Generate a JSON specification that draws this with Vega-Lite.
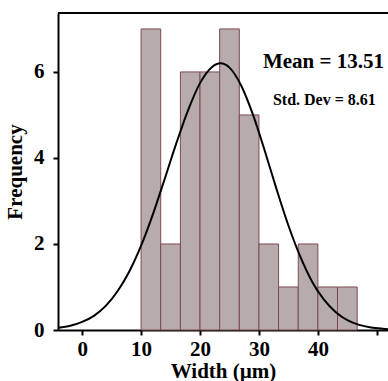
{
  "$schema": "https://vega.github.io/schema/vega-lite/v6.json",
  "autosize": "none",
  "width": 330,
  "height": 317,
  "padding": {"left": 58, "top": 13, "right": 0, "bottom": 51},
  "background": "white",
  "config": {
    "view": {"stroke": null},
    "font": "Liberation Serif",
    "axis": {
      "labelFont": "Liberation Serif",
      "titleFont": "Liberation Serif",
      "labelFontWeight": "bold",
      "titleFontWeight": "bold",
      "labelColor": "#000",
      "titleColor": "#000",
      "domainColor": "#000",
      "tickColor": "#000",
      "domainWidth": 2,
      "tickWidth": 2,
      "tickSize": 5,
      "grid": false
    }
  },
  "datasets": {
    "bars": [
      {"start": 10, "end": 13.33, "count": 7},
      {"start": 13.33, "end": 16.67, "count": 2},
      {"start": 16.67, "end": 20, "count": 6},
      {"start": 20, "end": 23.33, "count": 6},
      {"start": 23.33, "end": 26.67, "count": 7},
      {"start": 26.67, "end": 30, "count": 5},
      {"start": 30, "end": 33.33, "count": 2},
      {"start": 33.33, "end": 36.67, "count": 1},
      {"start": 36.67, "end": 40, "count": 2},
      {"start": 40, "end": 43.33, "count": 1},
      {"start": 43.33, "end": 46.67, "count": 1}
    ],
    "curve": [
      {"x": -4.1, "y": 0.05},
      {"x": -2, "y": 0.1},
      {"x": 0, "y": 0.19},
      {"x": 2, "y": 0.33},
      {"x": 4, "y": 0.56},
      {"x": 6, "y": 0.9},
      {"x": 8, "y": 1.36},
      {"x": 10, "y": 1.96},
      {"x": 12, "y": 2.69},
      {"x": 14, "y": 3.51},
      {"x": 16, "y": 4.35},
      {"x": 18, "y": 5.12},
      {"x": 20, "y": 5.74},
      {"x": 22, "y": 6.11},
      {"x": 23.5, "y": 6.2},
      {"x": 25, "y": 6.1},
      {"x": 27, "y": 5.68},
      {"x": 29, "y": 5.0},
      {"x": 31, "y": 4.16},
      {"x": 33, "y": 3.27},
      {"x": 35, "y": 2.43},
      {"x": 37, "y": 1.71},
      {"x": 39, "y": 1.13},
      {"x": 41, "y": 0.71},
      {"x": 43, "y": 0.42},
      {"x": 45, "y": 0.23},
      {"x": 47, "y": 0.12},
      {"x": 49, "y": 0.06},
      {"x": 51, "y": 0.03},
      {"x": 51.9, "y": 0.02}
    ],
    "notes": [
      {"label": "Mean = 13.51", "kind": "mean"},
      {"label": "Std. Dev = 8.61", "kind": "sd"}
    ]
  },
  "layer": [
    {
      "data": {"name": "bars"},
      "mark": {"type": "rect", "fill": "#b7abac", "stroke": "#7d4a52", "strokeWidth": 1},
      "encoding": {
        "x": {
          "field": "start", "type": "quantitative",
          "scale": {"domain": [-4.1, 51.9], "nice": false, "zero": false},
          "axis": {
            "values": [0, 10, 20, 30, 40, 50],
            "labelExpr": "datum.value == 50 ? '' : datum.label",
            "labelFontSize": 21,
            "labelPadding": 3,
            "title": "Width (µm)",
            "titleFontSize": 21,
            "titlePadding": 1
          }
        },
        "x2": {"field": "end"},
        "y": {
          "field": "count", "type": "quantitative",
          "scale": {"domain": [0, 7.37], "nice": false},
          "axis": {
            "values": [0, 2, 4, 6],
            "labelFontSize": 21,
            "labelPadding": 9,
            "title": "Frequency",
            "titleFontSize": 21,
            "titlePadding": 8
          }
        },
        "y2": {"datum": 0}
      }
    },
    {
      "data": {"name": "curve"},
      "mark": {"type": "line", "color": "#000", "strokeWidth": 2, "interpolate": "monotone", "clip": true},
      "encoding": {
        "x": {"field": "x", "type": "quantitative"},
        "y": {"field": "y", "type": "quantitative"}
      }
    },
    {
      "data": {"values": [{}]},
      "mark": {"type": "rule", "color": "#000", "strokeWidth": 2},
      "encoding": {"y": {"datum": 7.37}}
    },
    {
      "data": {"name": "notes"},
      "transform": [{"filter": "datum.kind == 'mean'"}],
      "mark": {"type": "text", "font": "Liberation Serif", "fontWeight": "bold", "fontSize": 21, "color": "#000", "align": "center", "baseline": "alphabetic"},
      "encoding": {"text": {"field": "label"}, "x": {"datum": 40.95}, "y": {"datum": 6.09}}
    },
    {
      "data": {"name": "notes"},
      "transform": [{"filter": "datum.kind == 'sd'"}],
      "mark": {"type": "text", "font": "Liberation Serif", "fontWeight": "bold", "fontSize": 16, "color": "#000", "align": "center", "baseline": "alphabetic"},
      "encoding": {"text": {"field": "label"}, "x": {"datum": 41.1}, "y": {"datum": 5.23}}
    }
  ]
}
